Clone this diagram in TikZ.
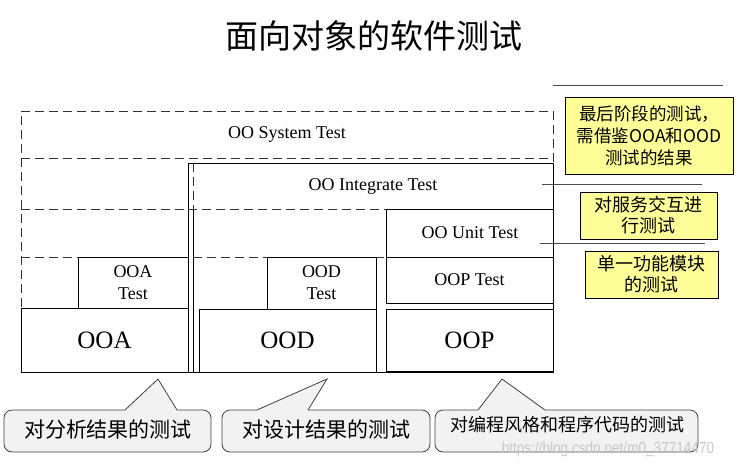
\documentclass[tikz,border=0pt]{standalone}
\usepackage{fontspec}
\setmainfont{Liberation Serif}
\newfontfamily\cjk{Noto Sans CJK SC}
\newfontfamily\wmfont{Liberation Sans}
\definecolor{noteyellow}{RGB}{255,255,153}
\definecolor{callfill}{RGB}{242,242,242}
\begin{document}
\begin{tikzpicture}[x=1pt,y=-1pt,
  solidbox/.style={draw=black, line width=0.8pt, inner sep=0pt, fill=white},
  openbox/.style={draw=black, line width=0.8pt, inner sep=0pt},
  dashline/.style={draw=black!80, line width=0.8pt, dash pattern=on 9pt off 5pt},
  lbl/.style={font=\fontsize{18}{22}\selectfont, align=center, inner sep=0pt},
  biglbl/.style={font=\fontsize{25}{28}\selectfont, inner sep=0pt},
  note/.style={draw=black, line width=0.8pt, fill=noteyellow, inner sep=0pt, align=center, font=\cjk\fontsize{17.5}{22}\selectfont},
  callbox/.style={draw=black!75, line width=0.8pt, fill=callfill, rounded corners=8pt, inner sep=0pt},
  callline/.style={draw=black!75, line width=0.8pt, line join=miter},
  calltext/.style={font=\cjk\fontsize{21}{24}\selectfont, inner sep=0pt},
  guide/.style={draw=black!70, line width=0.8pt},
  titlestyle/.style={font=\cjk\fontsize{33}{36}\selectfont, inner sep=0pt}
]
\useasboundingbox (0,0) rectangle (740,467);

% title
\node[titlestyle] (title) at (374,36) {面向对象的软件测试};

% system test frame
\node[openbox, dashline, minimum width=532pt, minimum height=261pt] (sysbox) at (287,241.5) {};
\node[lbl] (systxt) at (287,134) {OO System Test};
\draw[dashline] (21,158) -- (553,158);
\draw[dashline] (21,209) -- (553,209);
\draw[dashline] (21,257) -- (386,257);

% integrate test frame
\node[openbox, fill=white, minimum width=365pt, minimum height=209pt] (intbox) at (370.5,267.5) {};
\draw[dashline] (188,209) -- (553,209);
\node[lbl] (inttxt) at (373,186) {OO Integrate Test};
\draw[dashline] (193,163) -- (193,209);
\draw[black, line width=0.8pt] (193,209) -- (193,372);

% unit test
\node[openbox, minimum width=167pt, minimum height=48pt] (unitbox) at (469.5,233) {};
\node[lbl] (unittxt) at (470,233) {OO Unit Test};
\draw[dashline] (21,257) -- (188,257);
\draw[dashline] (193,257) -- (386,257);

% test boxes
\node[solidbox, lbl, minimum width=110pt, minimum height=51pt] (ooat) at (133,282.5) {OOA\\Test};
\node[solidbox, lbl, minimum width=109pt, minimum height=52pt] (oodt) at (321.5,283) {OOD\\Test};
\node[solidbox, lbl, minimum width=167pt, minimum height=46pt] (oopt) at (469.5,280) {OOP Test};

% phase boxes
\node[solidbox, biglbl, minimum width=167pt, minimum height=64pt] (ooa) at (104.5,340) {OOA};
\node[solidbox, biglbl, minimum width=177pt, minimum height=63pt] (ood) at (287.5,340.5) {OOD};
\node[solidbox, biglbl, minimum width=167pt, minimum height=62pt] (oop) at (469.5,340) {OOP};

% guide lines on the right
\coordinate (g1a) at (553,85);  \coordinate (g1b) at (723,85);
\coordinate (g2a) at (542,184); \coordinate (g2b) at (702,184);
\coordinate (g3a) at (540,243); \coordinate (g3b) at (705,243);
\draw[guide] (g1a) -- (g1b);
\draw[guide] (g2a) -- (g2b);
\draw[guide] (g3a) -- (g3b);

% yellow notes
\node[note, minimum width=168pt, minimum height=77pt] (n1) at (649,135.5) {最后阶段的测试，\\需借鉴OOA和OOD\\测试的结果};
\node[note, font=\cjk\fontsize{18}{21}\selectfont, minimum width=137pt, minimum height=47pt] (n2) at (648.5,215.5) {对服务交互进\\行测试};
\node[note, font=\cjk\fontsize{18}{21}\selectfont, minimum width=133pt, minimum height=47pt] (n3) at (651.5,274.5) {单一功能模块\\的测试};

% callouts
\node[callbox, minimum width=207pt, minimum height=42pt] (c1) at (107.5,431) {};
\coordinate (c1a) at (158,379);
\fill[callfill] (125,409) -- (c1a) -- (177,409) -- (177,411) -- (125,411) -- cycle;
\draw[callline] (125,410) -- (c1a) -- (177,410);
\node[calltext] (c1t) at (108,430) {对分析结果的测试};

\node[callbox, minimum width=208pt, minimum height=42pt] (c2) at (326,431) {};
\coordinate (c2a) at (327,379);
\fill[callfill] (257,409) -- (c2a) -- (308,409) -- (308,411) -- (257,411) -- cycle;
\draw[callline] (257,410) -- (c2a) -- (308,410);
\node[calltext] (c2t) at (326,430) {对设计结果的测试};

\node[callbox, minimum width=263pt, minimum height=42pt] (c3) at (566.5,431) {};
\coordinate (c3a) at (502,379);
\fill[callfill] (478,409) -- (c3a) -- (545,409) -- (545,411) -- (478,411) -- cycle;
\draw[callline] (478,410) -- (c3a) -- (545,410);
\node[calltext, font=\cjk\fontsize{18}{21}\selectfont] (c3t) at (567,425) {对编程风格和程序代码的测试};

% watermark
\node[inner sep=0pt, text=black!22, font=\wmfont\fontsize{16}{18}\selectfont] (wm) at (608,449) {\scalebox{0.85}[1]{https://blog.csdn.net/m0\_37714470}};
\end{tikzpicture}
\end{document}
